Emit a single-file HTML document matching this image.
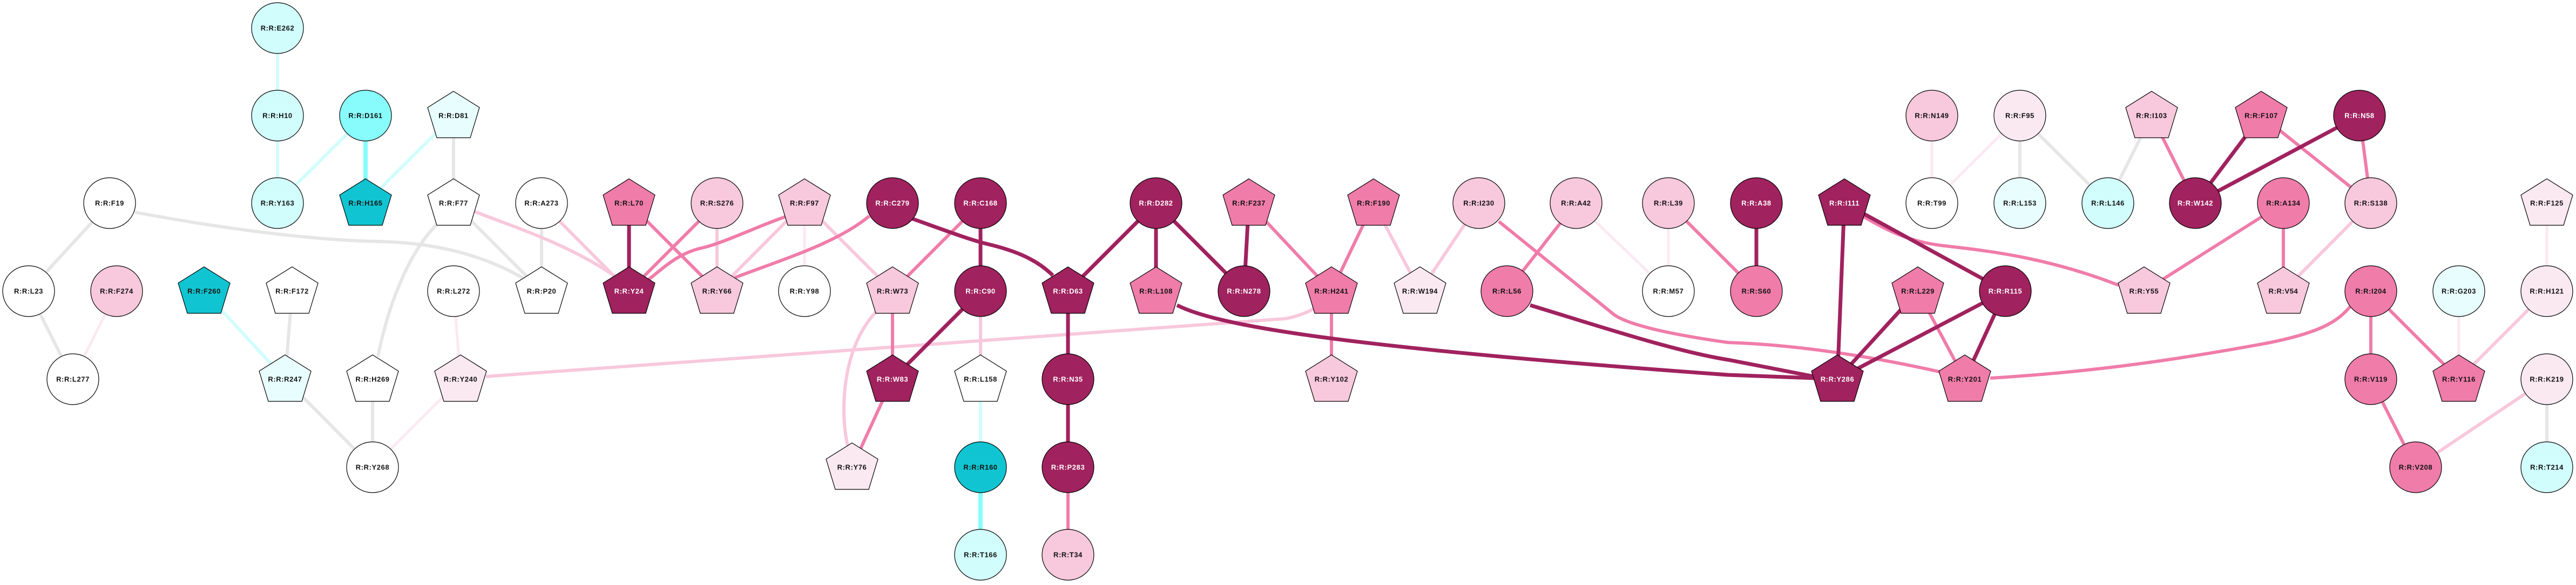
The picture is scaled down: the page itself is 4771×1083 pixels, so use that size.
<!DOCTYPE html>
<html><head><meta charset="utf-8"><style>
html,body{margin:0;padding:0;background:#fff;}
svg{display:block;}
text{font-family:"Liberation Sans",Arial,sans-serif;font-weight:bold;font-size:13px;letter-spacing:0.6px;text-anchor:middle;dominant-baseline:central;}
</style></head><body>
<svg width="4771" height="1083" viewBox="0 0 4771 1083" xmlns="http://www.w3.org/2000/svg">
<defs>
<polygon id="pg" points="0,-45 48,-15 31,41 -31,41 -48,-15" stroke="#000" stroke-width="1.2"/>
</defs>
<g fill="none" stroke-linecap="butt">
<!-- grey -->
<g stroke="#e6e6e6" stroke-width="6">
<line x1="203" y1="376" x2="53" y2="539"/>
<path d="M250 393 C450 430 600 445 700 447 S900 470 985 525"/>
<line x1="53" y1="539" x2="135" y2="702"/>
<line x1="541" y1="539" x2="528" y2="702"/>
<line x1="528" y1="702" x2="690" y2="865"/>
<line x1="690" y1="702" x2="690" y2="865"/>
<path d="M700 660 C720 560 760 460 815 410"/>
<line x1="840" y1="214" x2="840" y2="376"/>
<line x1="840" y1="376" x2="1003" y2="539"/>
<line x1="1003" y1="376" x2="1003" y2="539"/>
<line x1="3741" y1="214" x2="3741" y2="376"/>
<line x1="3741" y1="214" x2="3904" y2="376"/>
<line x1="3985" y1="214" x2="3904" y2="376"/>
<line x1="4717" y1="702" x2="4717" y2="865"/>
</g>
<!-- light cyan -->
<g stroke="#d1fdfd" stroke-width="6">
<line x1="514" y1="52" x2="514" y2="214"/>
<line x1="514" y1="214" x2="514" y2="376"/>
<line x1="677" y1="214" x2="514" y2="376"/>
<line x1="840" y1="214" x2="677" y2="376"/>
<line x1="378" y1="539" x2="528" y2="702"/>
<line x1="1816" y1="702" x2="1816" y2="865"/>
</g>
<g stroke="#88fcfc" stroke-width="8">
<line x1="677" y1="214" x2="677" y2="376"/>
<line x1="1816" y1="865" x2="1816" y2="1027"/>
</g>
<!-- very light pink -->
<g stroke="#fbe9f1" stroke-width="5">
<line x1="216" y1="539" x2="135" y2="702"/>
<line x1="853" y1="702" x2="690" y2="865"/>
<line x1="840" y1="539" x2="853" y2="702"/>
<line x1="1490" y1="376" x2="1490" y2="539"/>
<line x1="2919" y1="376" x2="3090" y2="539"/>
<line x1="3090" y1="376" x2="3090" y2="539"/>
<line x1="3578" y1="214" x2="3578" y2="376"/>
<line x1="3741" y1="214" x2="3578" y2="376"/>
<line x1="4554" y1="539" x2="4554" y2="702"/>
<line x1="4717" y1="376" x2="4717" y2="539"/>
</g>
<!-- light pink -->
<g stroke="#f8c8dc" stroke-width="6">
<path d="M875 390 C950 420 1050 450 1140 512"/>
<line x1="1003" y1="376" x2="1165" y2="539"/>
<line x1="1328" y1="376" x2="1328" y2="539"/>
<line x1="1490" y1="376" x2="1328" y2="539"/>
<line x1="1490" y1="376" x2="1653" y2="539"/>
<path d="M1625 575 C1560 640 1555 760 1570 825"/>
<path d="M900 697 L2380 590 Q2410 585 2440 568"/>
<line x1="1816" y1="539" x2="1816" y2="702"/>
<line x1="2544" y1="376" x2="2630" y2="539"/>
<line x1="2739" y1="376" x2="2630" y2="539"/>
<line x1="4391" y1="376" x2="4229" y2="539"/>
<line x1="4717" y1="539" x2="4554" y2="702"/>
<line x1="4717" y1="702" x2="4474" y2="865"/>
</g>
<!-- medium pink -->
<g stroke="#f07caa" stroke-width="6">
<line x1="1165" y1="376" x2="1328" y2="539"/>
<line x1="1328" y1="376" x2="1165" y2="539"/>
<path d="M1458 400 C1400 420 1340 450 1300 459 C1250 470 1220 505 1200 518"/>
<path d="M1361 514 C1450 480 1550 450 1610 400"/>
<line x1="1816" y1="376" x2="1653" y2="539"/>
<line x1="1653" y1="539" x2="1653" y2="702"/>
<line x1="1653" y1="702" x2="1578" y2="865"/>
<line x1="1978" y1="865" x2="1978" y2="1027"/>
<line x1="2313" y1="376" x2="2466" y2="539"/>
<line x1="2544" y1="376" x2="2466" y2="539"/>
<line x1="2466" y1="539" x2="2466" y2="702"/>
<path d="M2776 410 L2990 583 Q3030 610 3200 634 Q3380 640 3600 690"/>
<line x1="2919" y1="376" x2="2791" y2="539"/>
<line x1="3090" y1="376" x2="3253" y2="539"/>
<path d="M3450 400 C3500 430 3540 448 3600 455 C3700 466 3800 480 3924 528"/>
<line x1="3552" y1="539" x2="3639" y2="702"/>
<path d="M3686 700 C3850 690 4000 672 4200 635 C4300 615 4330 595 4355 565"/>
<line x1="3985" y1="214" x2="4066" y2="376"/>
<line x1="4188" y1="214" x2="4391" y2="376"/>
<line x1="4370" y1="214" x2="4391" y2="376"/>
<line x1="4229" y1="376" x2="3971" y2="539"/>
<line x1="4229" y1="376" x2="4229" y2="539"/>
<line x1="4391" y1="539" x2="4391" y2="702"/>
<line x1="4391" y1="539" x2="4554" y2="702"/>
<line x1="4391" y1="702" x2="4474" y2="865"/>
</g>
<!-- dark -->
<g stroke="#a0225e" stroke-width="7">
<line x1="1165" y1="376" x2="1165" y2="539"/>
<path d="M1690 405 C1760 430 1800 445 1830 452 C1880 464 1920 480 1950 510"/>
<line x1="1816" y1="376" x2="1816" y2="539"/>
<line x1="1816" y1="539" x2="1653" y2="702"/>
<line x1="2141" y1="376" x2="1978" y2="539"/>
<line x1="2141" y1="376" x2="2141" y2="539"/>
<line x1="2141" y1="376" x2="2304" y2="539"/>
<line x1="2313" y1="376" x2="2304" y2="539"/>
<line x1="1978" y1="539" x2="1978" y2="702"/>
<line x1="1978" y1="702" x2="1978" y2="865"/>
<path d="M2180 565 C2250 600 2450 640 3200 694 L3360 700"/>
<path d="M2834 565 C2950 600 3100 650 3200 666 L3360 697"/>
<line x1="3253" y1="376" x2="3253" y2="539"/>
<line x1="3416" y1="376" x2="3403" y2="702"/>
<line x1="3416" y1="376" x2="3714" y2="539"/>
<line x1="3552" y1="539" x2="3403" y2="702"/>
<line x1="3714" y1="539" x2="3403" y2="702"/>
<line x1="3714" y1="539" x2="3639" y2="702"/>
<line x1="4188" y1="214" x2="4066" y2="376"/>
<line x1="4370" y1="214" x2="4066" y2="376"/>
</g>
</g>

<g stroke="#000" stroke-width="1.2">
<!-- ellipses -->
<g>
<ellipse cx="514" cy="52" rx="48" ry="47" fill="#d1fdfd"/>
<ellipse cx="514" cy="214" rx="48" ry="47" fill="#d1fdfd"/>
<ellipse cx="677" cy="214" rx="48" ry="47" fill="#88fcfc"/>
<ellipse cx="514" cy="376" rx="48" ry="47" fill="#d1fdfd"/>
<ellipse cx="203" cy="376" rx="48" ry="47" fill="#fff"/>
<ellipse cx="53" cy="539" rx="48" ry="47" fill="#fff"/>
<ellipse cx="216" cy="539" rx="48" ry="47" fill="#f8c8dc"/>
<ellipse cx="135" cy="702" rx="48" ry="47" fill="#fff"/>
<ellipse cx="690" cy="865" rx="48" ry="47" fill="#fff"/>
<ellipse cx="1003" cy="376" rx="48" ry="47" fill="#fff"/>
<ellipse cx="1328" cy="376" rx="48" ry="47" fill="#f8c8dc"/>
<ellipse cx="840" cy="539" rx="48" ry="47" fill="#fff"/>
<ellipse cx="1490" cy="539" rx="48" ry="47" fill="#fff"/>
<ellipse cx="1653" cy="376" rx="48" ry="47" fill="#a0225e"/>
<ellipse cx="1816" cy="376" rx="48" ry="47" fill="#a0225e"/>
<ellipse cx="2141" cy="376" rx="48" ry="47" fill="#a0225e"/>
<ellipse cx="1816" cy="539" rx="48" ry="47" fill="#a0225e"/>
<ellipse cx="2304" cy="539" rx="48" ry="47" fill="#a0225e"/>
<ellipse cx="1978" cy="702" rx="48" ry="47" fill="#a0225e"/>
<ellipse cx="1816" cy="865" rx="48" ry="47" fill="#10c5d1"/>
<ellipse cx="1978" cy="865" rx="48" ry="47" fill="#a0225e"/>
<ellipse cx="1816" cy="1027" rx="48" ry="47" fill="#d1fdfd"/>
<ellipse cx="1978" cy="1027" rx="48" ry="47" fill="#f8c8dc"/>
<ellipse cx="2739" cy="376" rx="48" ry="47" fill="#f8c8dc"/>
<ellipse cx="2919" cy="376" rx="48" ry="47" fill="#f8c8dc"/>
<ellipse cx="3090" cy="376" rx="48" ry="47" fill="#f8c8dc"/>
<ellipse cx="2791" cy="539" rx="48" ry="47" fill="#f07caa"/>
<ellipse cx="3090" cy="539" rx="48" ry="47" fill="#fff"/>
<ellipse cx="3578" cy="214" rx="48" ry="47" fill="#f8c8dc"/>
<ellipse cx="3741" cy="214" rx="48" ry="47" fill="#fbe9f1"/>
<ellipse cx="3253" cy="376" rx="48" ry="47" fill="#a0225e"/>
<ellipse cx="3578" cy="376" rx="48" ry="47" fill="#fff"/>
<ellipse cx="3741" cy="376" rx="48" ry="47" fill="#e8fefe"/>
<ellipse cx="3904" cy="376" rx="48" ry="47" fill="#d1fdfd"/>
<ellipse cx="3253" cy="539" rx="48" ry="47" fill="#f07caa"/>
<ellipse cx="3714" cy="539" rx="48" ry="47" fill="#a0225e"/>
<ellipse cx="4370" cy="214" rx="48" ry="47" fill="#a0225e"/>
<ellipse cx="4066" cy="376" rx="48" ry="47" fill="#a0225e"/>
<ellipse cx="4229" cy="376" rx="48" ry="47" fill="#f07caa"/>
<ellipse cx="4391" cy="376" rx="48" ry="47" fill="#f8c8dc"/>
<ellipse cx="4391" cy="539" rx="48" ry="47" fill="#f07caa"/>
<ellipse cx="4554" cy="539" rx="48" ry="47" fill="#e8fefe"/>
<ellipse cx="4717" cy="539" rx="48" ry="47" fill="#fbe9f1"/>
<ellipse cx="4391" cy="702" rx="48" ry="47" fill="#f07caa"/>
<ellipse cx="4717" cy="702" rx="48" ry="47" fill="#fbe9f1"/>
<ellipse cx="4474" cy="865" rx="48" ry="47" fill="#f07caa"/>
<ellipse cx="4717" cy="865" rx="48" ry="47" fill="#d1fdfd"/>
</g>
<!-- pentagons -->
<use href="#pg" x="677" y="376" fill="#10c5d1"/>
<use href="#pg" x="378" y="539" fill="#10c5d1"/>
<use href="#pg" x="541" y="539" fill="#fff"/>
<use href="#pg" x="528" y="702" fill="#e8fefe"/>
<use href="#pg" x="690" y="702" fill="#fff"/>
<use href="#pg" x="840" y="214" fill="#e8fefe"/>
<use href="#pg" x="840" y="376" fill="#fff"/>
<use href="#pg" x="1165" y="376" fill="#f07caa"/>
<use href="#pg" x="1490" y="376" fill="#f8c8dc"/>
<use href="#pg" x="1003" y="539" fill="#fff"/>
<use href="#pg" x="1165" y="539" fill="#a0225e"/>
<use href="#pg" x="1328" y="539" fill="#f8c8dc"/>
<use href="#pg" x="853" y="702" fill="#fbe9f1"/>
<use href="#pg" x="1578" y="865" fill="#fbe9f1"/>
<use href="#pg" x="2313" y="376" fill="#f07caa"/>
<use href="#pg" x="1653" y="539" fill="#f8c8dc"/>
<use href="#pg" x="1978" y="539" fill="#a0225e"/>
<use href="#pg" x="2141" y="539" fill="#f07caa"/>
<use href="#pg" x="1653" y="702" fill="#a0225e"/>
<use href="#pg" x="1816" y="702" fill="#fff"/>
<use href="#pg" x="2544" y="376" fill="#f07caa"/>
<use href="#pg" x="2466" y="539" fill="#f07caa"/>
<use href="#pg" x="2630" y="539" fill="#fbe9f1"/>
<use href="#pg" x="2466" y="702" fill="#f8c8dc"/>
<use href="#pg" x="3985" y="214" fill="#f8c8dc"/>
<use href="#pg" x="3416" y="376" fill="#a0225e"/>
<use href="#pg" x="3552" y="539" fill="#f07caa"/>
<use href="#pg" x="3971" y="539" fill="#f8c8dc"/>
<use href="#pg" x="3403" y="702" fill="#a0225e"/>
<use href="#pg" x="3639" y="702" fill="#f07caa"/>
<use href="#pg" x="4188" y="214" fill="#f07caa"/>
<use href="#pg" x="4717" y="376" fill="#fbe9f1"/>
<use href="#pg" x="4229" y="539" fill="#f8c8dc"/>
<use href="#pg" x="4554" y="702" fill="#f07caa"/>
</g>

<g fill="#111">
<text x="514" y="52">R:R:E262</text>
<text x="514" y="214">R:R:H10</text>
<text x="677" y="214">R:R:D161</text>
<text x="514" y="376">R:R:Y163</text>
<text x="677" y="376">R:R:H165</text>
<text x="203" y="376">R:R:F19</text>
<text x="53" y="539">R:R:L23</text>
<text x="216" y="539">R:R:F274</text>
<text x="378" y="539">R:R:F260</text>
<text x="541" y="539">R:R:F172</text>
<text x="135" y="702">R:R:L277</text>
<text x="528" y="702">R:R:R247</text>
<text x="690" y="702">R:R:H269</text>
<text x="690" y="865">R:R:Y268</text>
<text x="840" y="214">R:R:D81</text>
<text x="840" y="376">R:R:F77</text>
<text x="1003" y="376">R:R:A273</text>
<text x="1165" y="376">R:R:L70</text>
<text x="1328" y="376">R:R:S276</text>
<text x="1490" y="376">R:R:F97</text>
<text x="840" y="539">R:R:L272</text>
<text x="1003" y="539">R:R:P20</text>
<text x="1328" y="539">R:R:Y66</text>
<text x="1490" y="539">R:R:Y98</text>
<text x="853" y="702">R:R:Y240</text>
<text x="1578" y="865">R:R:Y76</text>
<text x="2313" y="376">R:R:F237</text>
<text x="1653" y="539">R:R:W73</text>
<text x="2141" y="539">R:R:L108</text>
<text x="1816" y="702">R:R:L158</text>
<text x="1816" y="865">R:R:R160</text>
<text x="1816" y="1027">R:R:T166</text>
<text x="1978" y="1027">R:R:T34</text>
<text x="2544" y="376">R:R:F190</text>
<text x="2739" y="376">R:R:I230</text>
<text x="2919" y="376">R:R:A42</text>
<text x="3090" y="376">R:R:L39</text>
<text x="2466" y="539">R:R:H241</text>
<text x="2630" y="539">R:R:W194</text>
<text x="2791" y="539">R:R:L56</text>
<text x="3090" y="539">R:R:M57</text>
<text x="2466" y="702">R:R:Y102</text>
<text x="3578" y="214">R:R:N149</text>
<text x="3741" y="214">R:R:F95</text>
<text x="3985" y="214">R:R:I103</text>
<text x="3578" y="376">R:R:T99</text>
<text x="3741" y="376">R:R:L153</text>
<text x="3904" y="376">R:R:L146</text>
<text x="3253" y="539">R:R:S60</text>
<text x="3552" y="539">R:R:L229</text>
<text x="3971" y="539">R:R:Y55</text>
<text x="3639" y="702">R:R:Y201</text>
<text x="4188" y="214">R:R:F107</text>
<text x="4229" y="376">R:R:A134</text>
<text x="4391" y="376">R:R:S138</text>
<text x="4717" y="376">R:R:F125</text>
<text x="4229" y="539">R:R:V54</text>
<text x="4391" y="539">R:R:I204</text>
<text x="4554" y="539">R:R:G203</text>
<text x="4717" y="539">R:R:H121</text>
<text x="4391" y="702">R:R:V119</text>
<text x="4554" y="702">R:R:Y116</text>
<text x="4717" y="702">R:R:K219</text>
<text x="4474" y="865">R:R:V208</text>
<text x="4717" y="865">R:R:T214</text>
</g>
<g fill="#fff">
<text x="1165" y="539">R:R:Y24</text>
<text x="1653" y="376">R:R:C279</text>
<text x="1816" y="376">R:R:C168</text>
<text x="2141" y="376">R:R:D282</text>
<text x="1816" y="539">R:R:C90</text>
<text x="1978" y="539">R:R:D63</text>
<text x="2304" y="539">R:R:N278</text>
<text x="1653" y="702">R:R:W83</text>
<text x="1978" y="702">R:R:N35</text>
<text x="1978" y="865">R:R:P283</text>
<text x="3253" y="376">R:R:A38</text>
<text x="3416" y="376">R:R:I111</text>
<text x="3714" y="539">R:R:R115</text>
<text x="3403" y="702">R:R:Y286</text>
<text x="4370" y="214">R:R:N58</text>
<text x="4066" y="376">R:R:W142</text>
</g>
</svg>
</body></html>
